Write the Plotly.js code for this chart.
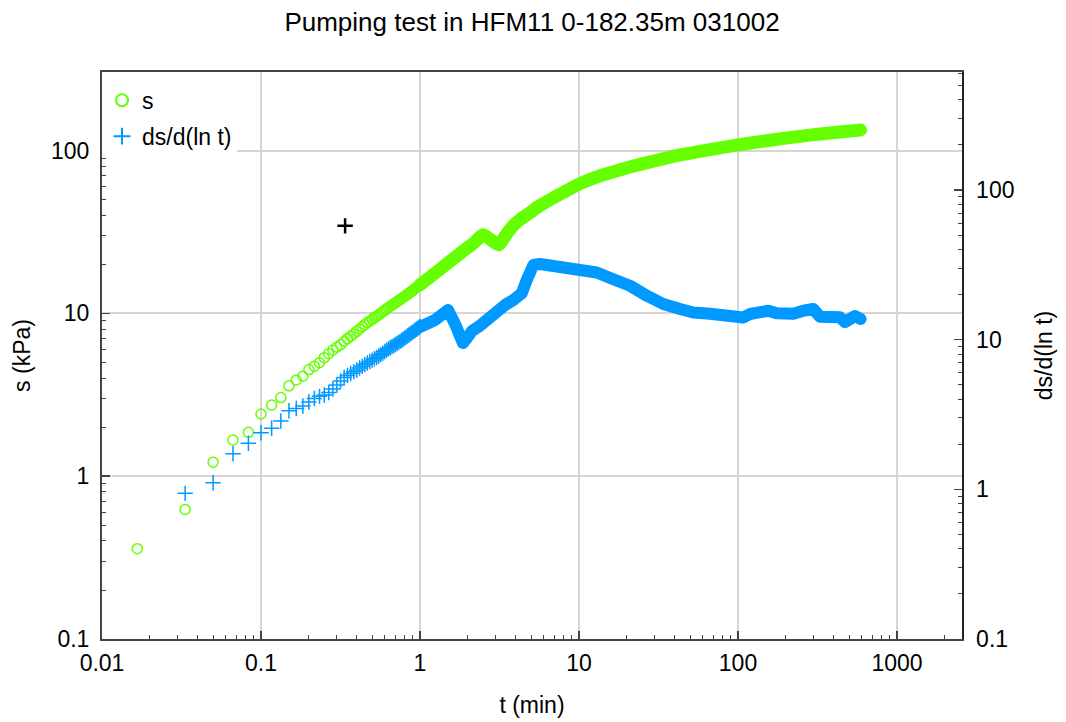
<!DOCTYPE html>
<html>
<head>
<meta charset="utf-8">
<script src="https://cdn.plot.ly/plotly-3.0.1.min.js"></script>
<style>
html,body{margin:0;padding:0;background:#fff;}
#chart{width:1066px;height:722px;}
.scatterlayer .js-line{stroke-linecap:round;stroke-linejoin:round;}
</style>
</head>
<body>
<div id="chart"></div>
<script>
// Early samples, one per second (seconds since start of pumping)
const earlySeconds = [1,2,3,4,5,6,7,8,9,10,11,12,13,14,15,16,17,18,19,20,21,22,23,24,25,26,27,28,29,30,
  31,32,33,34,35,36,37,38,39,40,41,42,43,44,45,46,47,48,49,50,51,52,53,54,55,56,57,58,59,60];
// drawdown s (kPa) at the early samples
const sEarly = [0.359,0.625,1.22,1.67,1.86,2.41,2.74,3.04,3.59,3.90,4.11,4.52,4.74,4.98,5.35,5.66,5.96,6.21,6.43,6.75,
  7.00,7.25,7.50,7.76,8.02,8.28,8.53,8.79,8.99,9.20,9.40,9.59,9.80,10.02,10.23,10.45,10.66,10.87,11.07,11.26,
  11.43,11.61,11.79,11.98,12.17,12.34,12.53,12.71,12.91,13.09,13.27,13.46,13.66,13.85,14.05,14.23,14.44,14.63,14.82,15.01];
// derivative ds/d(ln t) at the early samples from the 2nd second on
const dEarly = [0.940,1.107,1.73,2.03,2.39,2.56,2.86,3.35,3.47,3.60,3.83,4.04,4.18,4.27,4.43,4.68,4.97,5.29,5.58,
  5.77,5.94,6.11,6.27,6.46,6.63,6.81,6.98,7.14,7.30,7.45,7.61,7.77,7.94,8.12,8.33,8.51,8.67,8.83,8.98,
  9.12,9.27,9.42,9.56,9.73,9.90,10.07,10.23,10.39,10.57,10.74,10.90,11.07,11.22,11.40,11.55,11.72,11.88,12.04,12.19];

// Later (dense) part of s, t in minutes
const tLateS = [1.0,1.243,1.544,1.919,2.218,2.49,2.796,3.139,3.474,3.846,4.317,4.918,5.521,6.29,7.062,7.93,8.91,10.0,11.73,13.55,
  16.36,20.94,26.8,34.7,43.2,57.7,77.1,100,137.5,183.6,245.5,328,438,590];
const sLate = [15.0,17.65,20.9,24.66,27.5,30.4,28.3,26.4,30.4,34.5,38.1,41.5,45.2,48.7,52.0,55.2,58.8,62.2,66.5,70.0,
  74.0,79.4,84.4,89.6,94.1,98.9,104.0,108.4,113.6,118.0,122.3,126.6,130.3,134.0];

// Later (dense) part of ds/d(ln t), t in minutes
const tLateD = [1.0,1.243,1.5,1.59,1.684,1.785,1.864,1.975,2.124,2.385,2.677,3.036,3.424,3.863,4.362,4.69,4.918,5.16,5.684,6.265,
  7.93,10.0,12.92,16.44,20.94,26.7,33.9,43.2,52.4,66.7,84.9,99.5,108,119,137.5,155,175,202.5,223,257.5,
  297.6,328,379,438,471,506,545,590];
const dLate = [12.14,13.52,15.77,14.38,12.33,10.57,9.49,10.25,11.41,12.39,13.94,15.36,17.03,18.39,20.38,25.0,28.3,31.5,32.0,31.6,
  31.0,30.1,28.1,25.3,22.9,19.65,17.3,16.01,15.17,14.89,14.49,13.98,14.05,14.83,14.99,15.60,14.99,14.60,14.89,15.60,
  16.01,14.22,14.09,14.09,13.11,13.73,14.38,13.73];

// single black marker
const markT = [0.338];
const markS = [34.5];

const titleText = 'Pumping test in HFM11 0-182.35m 031002';
const seriesNames = ['s', 'ds/d(ln t)'];

const tEarly = earlySeconds.map(v => v / 60);

const GREEN = '#66ff00';
const BLUE = '#0099ff';
const FONT = 'Liberation Sans, Arial, Helvetica, sans-serif';
const FS = 23;

const traces = [
  {x: tEarly, y: sEarly, type: 'scatter', mode: 'markers', name: seriesNames[0], legendgroup: 's',
   marker: {symbol: 'circle-open', size: 10, color: GREEN, line: {color: GREEN, width: 1.5}}},
  {x: tEarly.slice(1), y: dEarly, type: 'scatter', mode: 'markers', name: seriesNames[1], legendgroup: 'd', yaxis: 'y2',
   marker: {symbol: 'cross-thin-open', size: 11, color: BLUE, line: {color: BLUE, width: 1.5}}},
  {x: tLateS, y: sLate, type: 'scatter', mode: 'lines', name: seriesNames[0], legendgroup: 's', showlegend: false,
   line: {color: GREEN, width: 13, shape: 'spline', smoothing: 0.6}},
  {x: tLateD, y: dLate, type: 'scatter', mode: 'lines', name: seriesNames[1], legendgroup: 'd', showlegend: false, yaxis: 'y2',
   line: {color: BLUE, width: 12}},
  {x: markT, y: markS, type: 'scatter', mode: 'markers', showlegend: false, name: '',
   marker: {symbol: 'cross-thin-open', size: 11, color: '#000', line: {color: '#000', width: 2.5}}}
];

const tickFont = {family: FONT, size: FS, color: '#000'};
const axisCommon = {
  type: 'log', dtick: 1, exponentformat: 'none',
  ticks: 'inside', ticklen: 8, tickwidth: 1.5, tickcolor: '#444',
  minor: {ticks: 'inside', ticklen: 4, tickwidth: 1, tickcolor: '#444', showgrid: false},
  tickfont: tickFont, zeroline: false, showline: true, linecolor: '#444', linewidth: 2
};

const layout = {
  width: 1066, height: 722,
  paper_bgcolor: '#fff', plot_bgcolor: '#fff',
  margin: {l: 102, r: 104, t: 72, b: 83},
  font: {family: FONT, size: FS, color: '#000'},
  title: {text: titleText, x: 0.5, xref: 'paper', xanchor: 'center', y: 0.9695, yref: 'container', yanchor: 'middle',
          font: {family: FONT, size: 26, color: '#000'}},
  xaxis: Object.assign({}, axisCommon, {
    range: [-2, 3.409], mirror: true, ticklabelstandoff: 2,
    showgrid: true, gridcolor: '#d6d6d6', gridwidth: 2,
    title: {text: 't (min)', font: {family: FONT, size: FS, color: '#000'}, standoff: 22}
  }),
  yaxis: Object.assign({}, axisCommon, {
    range: [-1, 2.483], ticklabelstandoff: 6,
    showgrid: true, gridcolor: '#d6d6d6', gridwidth: 2,
    title: {text: 's (kPa)', font: {family: FONT, size: FS, color: '#000'}, standoff: 14}
  }),
  yaxis2: Object.assign({}, axisCommon, {
    range: [-1, 2.788], overlaying: 'y', side: 'right', showgrid: false, linecolor: '#222', linewidth: 1.5,
    ticklabelstandoff: 8,
    title: {text: 'ds/d(ln t)', font: {family: FONT, size: FS, color: '#000'}, standoff: 22}
  }),
  legend: {x: 0, y: 0.988, xanchor: 'left', yanchor: 'top', bgcolor: '#fff', borderwidth: 0, tracegroupgap: 3,
           font: {family: FONT, size: FS, color: '#000'}, itemsizing: 'constant'},
  showlegend: true
};

Plotly.newPlot('chart', traces, layout, {displayModeBar: false, staticPlot: true});
</script>
</body>
</html>
